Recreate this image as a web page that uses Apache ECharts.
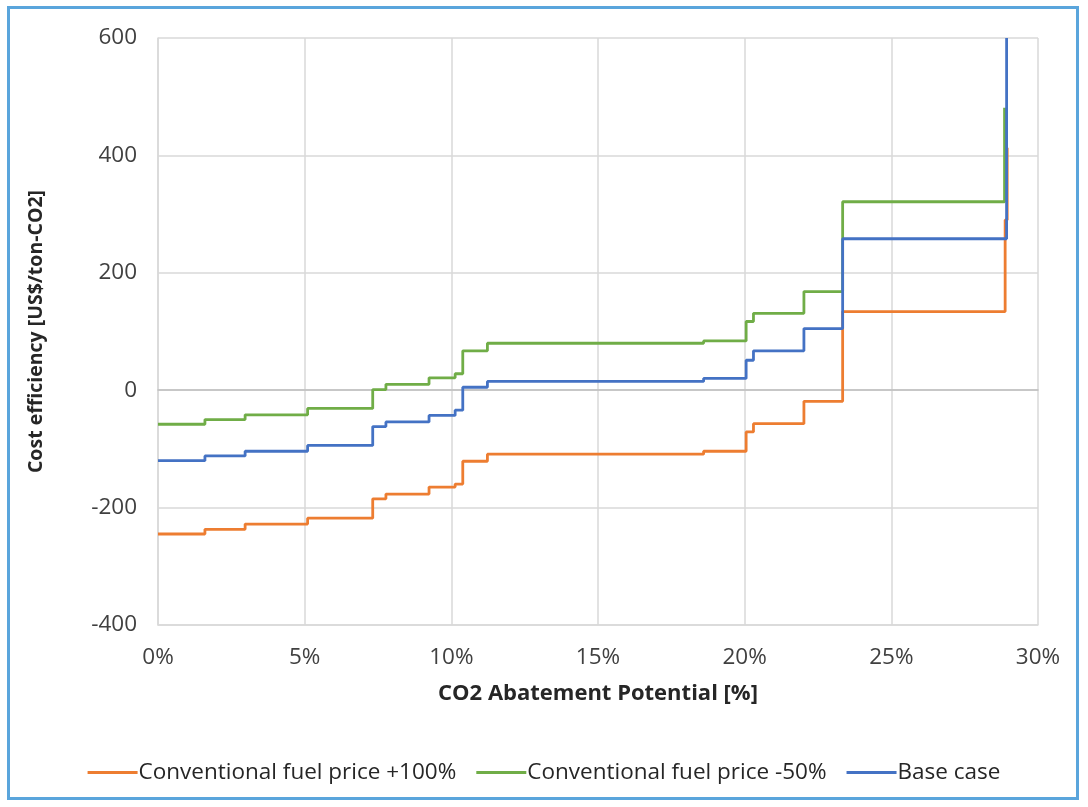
<!DOCTYPE html>
<html>
<head>
<meta charset="utf-8">
<script src="https://cdn.jsdelivr.net/npm/echarts@6/dist/echarts.min.js"></script>
<style>
html,body{margin:0;padding:0;background:#fff;}
#frame{position:absolute;left:7px;top:6px;width:1072px;height:794px;border:3px solid #5aa5dc;box-sizing:border-box;}
#chart{position:absolute;left:0;top:0;width:1088px;height:807px;}
</style>
</head>
<body>
<div id="frame"></div>
<div id="chart"></div>
<script>
// Breakpoints (% abatement) where each shared step starts
const stepPct = [0, 1.6, 2.97, 5.1, 7.32, 7.77, 9.24, 10.13, 10.39, 11.23, 18.6, 20.05, 20.3, 22.02, 23.34];

// Cost efficiency values [US$/ton-CO2] for each step
const fuel100Vals = [-245, -237, -228, -218, -185, -177, -165, -160, -121, -109, -104, -71, -57, -19, 134];
const fuelMinus50Vals = [-58, -50, -42, -31, 1, 10, 21, 28, 67, 80, 84, 117, 131, 168, 321];
const baseVals = [-120, -112, -104, -94, -62, -54, -43, -34, 5, 15, 20, 51, 67, 105, 258];

// Final steep tail of each curve
const fuel100TailPct = [28.88, 28.95, 28.97];
const fuel100TailVals = [290, 413, 413];
const fuelMinus50TailPct = [28.86, 28.88];
const fuelMinus50TailVals = [481, 481];
const baseTailPct = [28.93, 28.95];
const baseTailVals = [600, 600];

const seriesNames = ['Conventional fuel price +100%', 'Conventional fuel price -50%', 'Base case'];
const yTicks = [-400, -200, 0, 200, 400, 600];
const xTicks = [0, 5, 10, 15, 20, 25, 30];

function pairs(xs, ys, tx, ty) {
  const out = [];
  for (let i = 0; i < xs.length; i++) out.push([xs[i], ys[i]]);
  for (let i = 0; i < tx.length; i++) out.push([tx[i], ty[i]]);
  return out;
}

const colors = ['#ED7D31', '#70AD47', '#4472C4'];
const datasets = [
  pairs(stepPct, fuel100Vals, fuel100TailPct, fuel100TailVals),
  pairs(stepPct, fuelMinus50Vals, fuelMinus50TailPct, fuelMinus50TailVals),
  pairs(stepPct, baseVals, baseTailPct, baseTailVals)
];

const chart = echarts.init(document.getElementById('chart'), null, {renderer: 'canvas'});
const font = '"Open Sans", "Noto Sans", sans-serif';

chart.setOption({
  animation: false,
  backgroundColor: 'transparent',
  textStyle: {fontFamily: font},
  color: colors,
  grid: {left: 158, right: 50, top: 38, bottom: 182, containLabel: false},
  legend: {
    top: 756,
    left: 'center',
    icon: 'rect',
    itemWidth: 50,
    itemHeight: 3,
    itemGap: 20,
    textStyle: {fontFamily: font, fontSize: 22.5, color: '#262626', padding: [0, 0, 0, -4]},
    data: seriesNames
  },
  xAxis: [{
    type: 'value',
    min: xTicks[0],
    max: xTicks[xTicks.length - 1],
    interval: 5,
    name: 'CO2 Abatement Potential [%]',
    nameLocation: 'middle',
    nameGap: 58,
    nameTextStyle: {fontFamily: font, fontSize: 22, fontWeight: 'bold', color: '#262626'},
    axisLine: {show: true, onZero: false, lineStyle: {color: '#d9d9d9', width: 1.5}},
    axisTick: {show: false},
    axisLabel: {formatter: '{value}%', fontSize: 22.5, color: '#404040', margin: 21},
    splitLine: {show: true, lineStyle: {color: '#d9d9d9', width: 1.5}}
  }, {
    type: 'value',
    min: xTicks[0],
    max: xTicks[xTicks.length - 1],
    position: 'bottom',
    axisLine: {show: true, onZero: true, lineStyle: {color: '#bfbfbf', width: 1.5}},
    axisTick: {show: false},
    axisLabel: {show: false},
    splitLine: {show: false}
  }],
  yAxis: {
    type: 'value',
    min: yTicks[0],
    max: yTicks[yTicks.length - 1],
    interval: 200,
    name: 'Cost efficiency [US$/ton-CO2]',
    nameLocation: 'middle',
    nameGap: 112,
    nameTextStyle: {fontFamily: font, fontSize: 19.5, fontWeight: 'bold', color: '#262626'},
    axisLine: {show: true, lineStyle: {color: '#d9d9d9', width: 1.5}},
    axisTick: {show: false},
    axisLabel: {fontSize: 22.5, color: '#404040', margin: 21},
    splitLine: {show: true, lineStyle: {color: '#d9d9d9', width: 1.5}}
  },
  series: seriesNames.map((n, i) => ({
    name: n,
    type: 'line',
    step: 'end',
    xAxisIndex: 0,
    showSymbol: false,
    symbol: 'none',
    data: datasets[i],
    lineStyle: {color: colors[i], width: 2.8},
    itemStyle: {color: colors[i]},
    z: 3 + i
  }))
});
</script>
</body>
</html>
